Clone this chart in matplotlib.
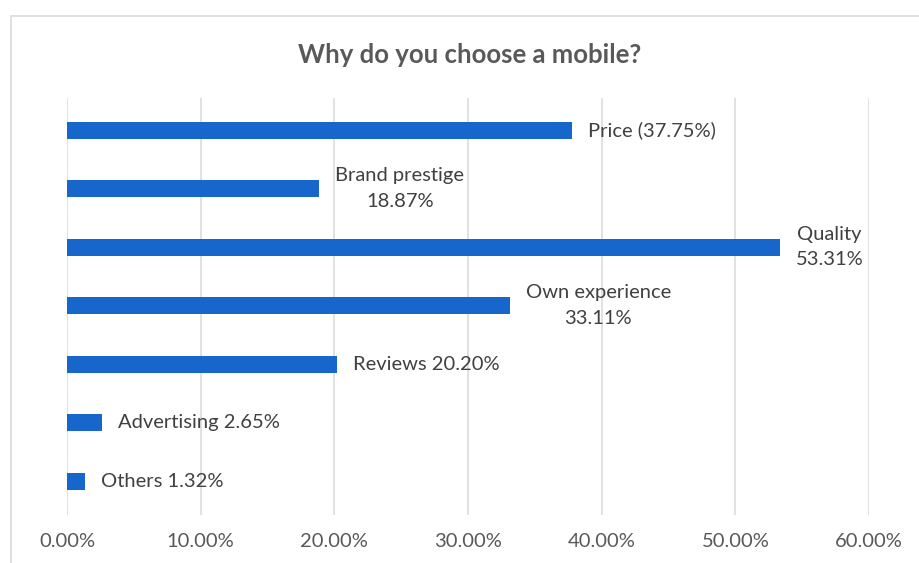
import matplotlib.pyplot as plt
from matplotlib.patches import Rectangle
from matplotlib.ticker import FuncFormatter

reasons = ['Price', 'Brand prestige', 'Quality', 'Own experience',
           'Reviews', 'Advertising', 'Others']
shares = [37.75, 18.87, 53.31, 33.11, 20.20, 2.65, 1.32]
# how each data label is laid out ("{name}" and "{value}")
label_formats = ['{name} ({value:.2f}%)', '{name}\n{value:.2f}%', '{name}\n{value:.2f}%',
                 '{name}\n{value:.2f}%', '{name} {value:.2f}%', '{name} {value:.2f}%',
                 '{name} {value:.2f}%']
x_ticks = [0, 10, 20, 30, 40, 50, 60]

BAR_COLOR = '#1766CC'
TEXT_COLOR = '#404040'
GRID_COLOR = '#D9D9D9'

plt.rcParams['font.family'] = ['Lato', 'DejaVu Sans']

fig = plt.figure(figsize=(9.19, 5.63), dpi=100)

# chart frame
fig.patches.append(Rectangle((11 / 919, -0.05), 1.0, 1 - 16 / 563 + 0.05,
                             transform=fig.transFigure, fill=False,
                             edgecolor=GRID_COLOR, linewidth=1.2))

ax = fig.add_axes([67 / 919, 1 - 515 / 563, (869 - 67) / 919, (515 - 98) / 563])

pos = list(range(len(reasons)))
ax.barh(pos, shares, height=0.29, color=BAR_COLOR, zorder=3)

for p, name, val, fmt in zip(pos, reasons, shares, label_formats):
    ax.annotate(fmt.format(name=name, value=val), xy=(val, p), xytext=(11.5, 0),
                textcoords='offset points', ha='left', va='center',
                multialignment='center', fontsize=14.5, color=TEXT_COLOR,
                linespacing=1.6)

ax.set_xlim(0, 60)
ax.set_ylim(len(reasons) - 1 + 0.58, -0.55)
ax.set_xticks(x_ticks)
ax.xaxis.set_major_formatter(FuncFormatter(lambda v, _: f'{v:.2f}%'))
ax.set_yticks([])
ax.tick_params(axis='x', length=0, pad=13, labelsize=14.5, labelcolor='#595959')
ax.grid(axis='x', color=GRID_COLOR, linewidth=1.1, zorder=0)
for s in ax.spines.values():
    s.set_visible(False)

fig.text(0.511, 1 - 55 / 563, 'Why do you choose a mobile?', ha='center', va='center',
         fontsize=18.5, fontweight='bold', color='#595959')

fig.savefig('out.png', dpi=100)
